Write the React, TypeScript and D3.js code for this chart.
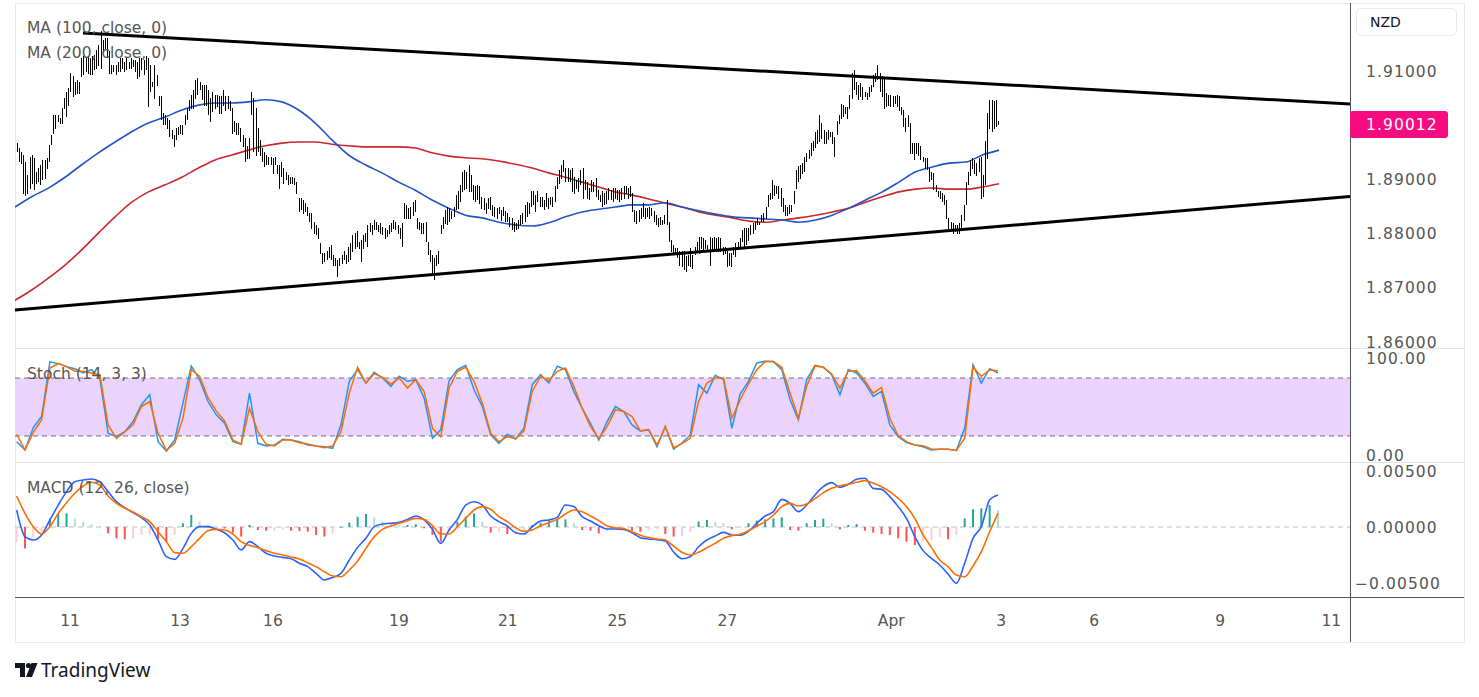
import React from "react";
import * as d3 from "d3";

// time axis is in "session days" counted from the start of 10 Mar (weekends removed)
const dayLabels = ["11", "13", "16", "19", "21", "25", "27", "Apr", "3", "6", "9", "11"];
const dayTicks = [1.0, 3.0, 4.69, 6.98, 8.96, 10.95, 12.95, 15.93, 17.93, 19.62, 21.91, 23.93];
const firstDay = 0.03;
const lastDay = 17.87;
const maFirstDay = 0;
const maLastDay = 17.89;

const priceTicks = [1.86, 1.87, 1.88, 1.89, 1.9, 1.91];
const stochTicks = [0, 100];
const stochBands = [20, 80];
const macdTicks = [-0.005, 0, 0.005];
const lastClose = 1.90012;

// hourly bar highs / lows
const barHigh = [
  1.8967, 1.8958, 1.8951, 1.8945, 1.8933, 1.8908, 1.8942, 1.8945, 1.8939, 1.8914,
  1.8921, 1.8927, 1.8936, 1.8936, 1.8939, 1.8964, 1.8982, 1.9019, 1.9019, 1.9019,
  1.9013, 1.9031, 1.905, 1.9062, 1.9068, 1.9096, 1.909, 1.908, 1.9084, 1.908,
  1.9124, 1.9127, 1.9124, 1.9127, 1.9124, 1.9127, 1.913, 1.9139, 1.9148, 1.9173,
  1.9157, 1.916, 1.916, 1.9136, 1.9111, 1.9111, 1.9111, 1.9117, 1.9124, 1.9124,
  1.9117, 1.9124, 1.9117, 1.9124, 1.912, 1.912, 1.9117, 1.9124, 1.9124, 1.912,
  1.9127, 1.9124, 1.9111, 1.908, 1.9111, 1.9093, 1.9053, 1.9053, 1.9022, 1.9019,
  1.9013, 1.901, 1.8991, 1.8982, 1.8994, 1.8997, 1.9001, 1.9001, 1.9019, 1.9031,
  1.9047, 1.9056, 1.9065, 1.9084, 1.9087, 1.908, 1.9074, 1.9074, 1.9074, 1.9065,
  1.905, 1.9062, 1.9056, 1.9056, 1.9053, 1.9053, 1.9065, 1.9053, 1.9053, 1.9044,
  1.9031, 1.9007, 1.9004, 1.9004, 1.8994, 1.8982, 1.8976, 1.8961, 1.8976, 1.9062,
  1.905, 1.9031, 1.8994, 1.8973, 1.8958, 1.8951, 1.8945, 1.8942, 1.8942, 1.8939,
  1.8942, 1.8927, 1.8927, 1.8933, 1.8921, 1.8914, 1.8908, 1.8905, 1.8905, 1.8902,
  1.8896, 1.8865, 1.8865, 1.8862, 1.8856, 1.885, 1.8838, 1.8838, 1.8822, 1.8816,
  1.881, 1.8782, 1.8764, 1.8764, 1.8767, 1.8776, 1.8779, 1.8761, 1.8755, 1.8752,
  1.8755, 1.8761, 1.8767,
  1.8761, 1.8776, 1.8782, 1.8798, 1.8801, 1.8804, 1.8785, 1.8788, 1.8798, 1.8801,
  1.8816, 1.8819, 1.8816, 1.8825, 1.8822, 1.8816, 1.8819, 1.8813, 1.881, 1.8807,
  1.8816, 1.8819, 1.8825, 1.8822, 1.8816, 1.881, 1.8819, 1.8856, 1.8853, 1.8847,
  1.885, 1.8859, 1.8862, 1.8828, 1.8822, 1.8819, 1.8819, 1.8822, 1.8785, 1.877,
  1.8761, 1.8755, 1.8761, 1.8767, 1.8816, 1.8831, 1.8844, 1.885, 1.8847, 1.8841,
  1.885, 1.8871, 1.8878, 1.889, 1.8914, 1.8918, 1.8914, 1.8927, 1.8908, 1.889,
  1.8887, 1.889, 1.8887, 1.8868, 1.8865, 1.8856, 1.8865, 1.8868, 1.8853, 1.885,
  1.8847, 1.885, 1.8844, 1.885, 1.8841, 1.8838, 1.8831, 1.8828, 1.8822, 1.8819,
  1.8825, 1.8834, 1.8838, 1.8853, 1.8859, 1.8856, 1.8878, 1.8878, 1.8871, 1.8878,
  1.8868, 1.8868, 1.8862, 1.8874, 1.8865, 1.8868, 1.8868, 1.8887, 1.8905, 1.8918,
  1.8927, 1.8936, 1.8921, 1.8921, 1.8918, 1.8921, 1.8905, 1.8899, 1.8902, 1.8918,
  1.8921, 1.8899, 1.8896, 1.8884, 1.8899, 1.8896, 1.8902, 1.8881, 1.8871, 1.8878,
  1.8874, 1.8878, 1.8884, 1.8881, 1.8884, 1.8884, 1.8881, 1.8881, 1.8884, 1.8887,
  1.8887, 1.8884, 1.8887, 1.8874, 1.8844, 1.8841, 1.8844, 1.8847, 1.8856, 1.8847,
  1.8847, 1.885, 1.8847, 1.8841, 1.8834, 1.8828, 1.8831, 1.8825, 1.8834, 1.8862,
  1.8822, 1.8788, 1.8779, 1.8773,
  1.8773, 1.8767, 1.8767, 1.8767, 1.8758, 1.8761, 1.8773, 1.8761, 1.8776, 1.8785,
  1.8794, 1.8794, 1.8791, 1.8788, 1.8779, 1.8794, 1.8791, 1.8794, 1.8791, 1.8794,
  1.8791, 1.8776, 1.8776, 1.8767, 1.8764, 1.8764, 1.8776, 1.8782, 1.8785, 1.8791,
  1.8807, 1.881, 1.881, 1.881, 1.8816, 1.8819, 1.8822, 1.8828, 1.8822, 1.8834,
  1.8838, 1.885, 1.8871, 1.8874, 1.8899, 1.889, 1.8887, 1.8887, 1.8884, 1.8865,
  1.8853, 1.885, 1.8853, 1.8853, 1.8878, 1.8918, 1.8924, 1.8927, 1.893, 1.8942,
  1.8948, 1.8954, 1.8967, 1.897, 1.8988, 1.8991, 1.9019, 1.9004, 1.8991, 1.8988,
  1.8991, 1.8988, 1.8988, 1.8979, 1.9007, 1.9019, 1.904, 1.9037, 1.9034, 1.9034,
  1.9056, 1.9096, 1.9102, 1.908, 1.9074, 1.9077, 1.9071, 1.9062, 1.9059, 1.9071,
  1.9074, 1.9093, 1.9096, 1.9111, 1.9096, 1.909, 1.9087, 1.9059, 1.9056, 1.9056,
  1.9053, 1.9053, 1.9056, 1.9053, 1.9034, 1.9028, 1.9013, 1.9019, 1.9004, 1.8967,
  1.8967, 1.8967, 1.8967, 1.8961, 1.8942, 1.8939, 1.8939, 1.8921, 1.8914, 1.8911,
  1.889, 1.8878, 1.8878, 1.8874, 1.8871, 1.8862, 1.8828, 1.8822, 1.8819, 1.8816,
  1.8816, 1.8819, 1.8834, 1.8853, 1.8896, 1.8914, 1.8936, 1.8939, 1.8936, 1.893,
  1.8939, 1.8942, 1.8908, 1.897, 1.9022, 1.9047, 1.9047, 1.9044, 1.9047, 1.9007,
];

const barLow = [
  1.8951, 1.8933, 1.893, 1.8874, 1.8871, 1.8874, 1.8884, 1.8893, 1.8881, 1.8893,
  1.8896, 1.889, 1.8899, 1.8902, 1.8921, 1.8933, 1.8964, 1.8985, 1.8994, 1.9007,
  1.9004, 1.9004, 1.9031, 1.9016, 1.9037, 1.9062, 1.9053, 1.9056, 1.9059, 1.9059,
  1.909, 1.9093, 1.9099, 1.9096, 1.9093, 1.9093, 1.9102, 1.9105, 1.9111, 1.9105,
  1.9136, 1.9142, 1.9124, 1.9096, 1.9096, 1.9099, 1.9093, 1.9099, 1.9099, 1.9105,
  1.9099, 1.9102, 1.9105, 1.9105, 1.9108, 1.9099, 1.9087, 1.909, 1.9102, 1.9093,
  1.9102, 1.9034, 1.9062, 1.9071, 1.905, 1.9074, 1.9037, 1.901, 1.9001, 1.9001,
  1.8994, 1.8979, 1.8976, 1.8961, 1.8973, 1.8982, 1.8985, 1.8982, 1.9001, 1.901,
  1.9028, 1.9031, 1.9031, 1.905, 1.9056, 1.9065, 1.9047, 1.9037, 1.9037, 1.9019,
  1.9007, 1.9025, 1.9031, 1.9034, 1.9022, 1.9022, 1.9037, 1.9028, 1.9031, 1.9028,
  1.8985, 1.8988, 1.8982, 1.8982, 1.897, 1.8961, 1.8933, 1.8939, 1.8939, 1.9019,
  1.8951, 1.8945, 1.8951, 1.8945, 1.8933, 1.8924, 1.8927, 1.8927, 1.8927, 1.8911,
  1.8927, 1.8911, 1.8884, 1.8905, 1.8893, 1.8899, 1.889, 1.8893, 1.8893, 1.889,
  1.8874, 1.8841, 1.8844, 1.8838, 1.8841, 1.8834, 1.8822, 1.881, 1.8801, 1.8798,
  1.8791, 1.8764, 1.8745, 1.8748, 1.8752, 1.8755, 1.8752, 1.8742, 1.8742, 1.8721,
  1.8742, 1.8745, 1.8752,
  1.8745, 1.8748, 1.8752, 1.8767, 1.8773, 1.8776, 1.8773, 1.8748, 1.8773, 1.8785,
  1.8776, 1.8804, 1.8798, 1.8807, 1.8807, 1.8804, 1.8801, 1.8798, 1.8791, 1.8794,
  1.8801, 1.8804, 1.881, 1.8807, 1.8801, 1.8791, 1.8776, 1.8828, 1.8828, 1.8828,
  1.8828, 1.8834, 1.8841, 1.881, 1.8807, 1.8801, 1.8801, 1.8785, 1.8761, 1.8748,
  1.8724, 1.8715, 1.8742, 1.8745, 1.8801, 1.881, 1.8819, 1.8816, 1.8822, 1.8828,
  1.8831, 1.8844, 1.8847, 1.8859, 1.8878, 1.8881, 1.8884, 1.8878, 1.8878, 1.8862,
  1.8859, 1.8862, 1.8856, 1.8847, 1.8844, 1.8838, 1.8847, 1.8844, 1.8834, 1.8831,
  1.8828, 1.8838, 1.8825, 1.8834, 1.8822, 1.8822, 1.8813, 1.8807, 1.8804, 1.8807,
  1.881, 1.8816, 1.8819, 1.8822, 1.8831, 1.8838, 1.885, 1.8853, 1.8841, 1.8859,
  1.885, 1.885, 1.8844, 1.885, 1.8847, 1.8853, 1.885, 1.8859, 1.8884, 1.8893,
  1.8902, 1.8914, 1.8896, 1.8896, 1.8896, 1.8878, 1.8874, 1.8884, 1.8878, 1.889,
  1.8865, 1.8881, 1.8865, 1.8862, 1.8878, 1.8878, 1.8868, 1.8862, 1.8859, 1.885,
  1.8853, 1.8856, 1.8862, 1.8862, 1.8859, 1.8865, 1.8862, 1.8859, 1.8862, 1.8865,
  1.8874, 1.8865, 1.8868, 1.8841, 1.8822, 1.8819, 1.8822, 1.8828, 1.8831, 1.8828,
  1.8831, 1.8828, 1.8834, 1.8822, 1.8816, 1.8813, 1.8816, 1.8816, 1.8819, 1.8816,
  1.8785, 1.8767, 1.8761, 1.8761,
  1.8755, 1.8742, 1.8739, 1.8733, 1.873, 1.8742, 1.8739, 1.8736, 1.8761, 1.8767,
  1.8764, 1.8773, 1.8767, 1.8773, 1.8767, 1.8742, 1.8767, 1.8773, 1.8767, 1.8767,
  1.8767, 1.8761, 1.8764, 1.8739, 1.8742, 1.8739, 1.8761, 1.8758, 1.8773, 1.8776,
  1.8785, 1.8776, 1.8779, 1.8788, 1.8798, 1.8801, 1.8807, 1.8816, 1.8816, 1.8822,
  1.8822, 1.8828, 1.885, 1.8862, 1.8865, 1.8871, 1.8874, 1.8865, 1.885, 1.8841,
  1.8834, 1.8834, 1.8838, 1.8841, 1.8856, 1.8884, 1.8896, 1.8902, 1.8911, 1.8914,
  1.8933, 1.8939, 1.8945, 1.8954, 1.8958, 1.8967, 1.897, 1.8976, 1.8967, 1.8967,
  1.8973, 1.8979, 1.8967, 1.8942, 1.8982, 1.9004, 1.9013, 1.9016, 1.9022, 1.9013,
  1.9031, 1.905, 1.9065, 1.9056, 1.9047, 1.9053, 1.9047, 1.9053, 1.9047, 1.9053,
  1.9062, 1.9071, 1.908, 1.9084, 1.9062, 1.9053, 1.9031, 1.9034, 1.9037, 1.9034,
  1.9034, 1.904, 1.9034, 1.9028, 1.9019, 1.8997, 1.8988, 1.8997, 1.8948, 1.8948,
  1.8936, 1.8948, 1.8945, 1.8936, 1.8933, 1.8921, 1.8918, 1.8896, 1.8899, 1.8881,
  1.8878, 1.8868, 1.8865, 1.8859, 1.8853, 1.8828, 1.881, 1.8807, 1.8801, 1.8804,
  1.8801, 1.8801, 1.881, 1.8825, 1.8853, 1.889, 1.8908, 1.8921, 1.8911, 1.8908,
  1.8914, 1.8865, 1.8868, 1.889, 1.8939, 1.8994, 1.8988, 1.8994, 1.8997, 1.9001,
];

const ma100 = [
  1.8849, 1.8868, 1.8884, 1.8904, 1.8927, 1.8949, 1.8969, 1.8988, 1.9004, 1.9015,
  1.9028, 1.9037, 1.9041, 1.9041, 1.9043, 1.9047, 1.9043, 1.9028, 1.9004, 1.8973,
  1.8945, 1.8927, 1.8912, 1.8895, 1.888, 1.8862, 1.8847, 1.8834, 1.8829, 1.8821,
  1.8816, 1.8814, 1.882, 1.8831, 1.884, 1.8845, 1.8849, 1.8853, 1.8853, 1.8857,
  1.8849, 1.8842, 1.8836, 1.8831, 1.8829, 1.8827, 1.8825, 1.8821, 1.8825, 1.8834,
  1.8847, 1.8862, 1.8877, 1.8895, 1.8914, 1.8923, 1.893, 1.8932, 1.8945, 1.8954,
];

const ma200 = [
  1.8677, 1.8696, 1.8718, 1.8742, 1.877, 1.8801, 1.8831, 1.8858, 1.8877, 1.889,
  1.8904, 1.8921, 1.8936, 1.8945, 1.8954, 1.8962, 1.8967, 1.8969, 1.8969, 1.8965,
  1.8962, 1.896, 1.896, 1.896, 1.8958, 1.8949, 1.8943, 1.894, 1.8938, 1.8934,
  1.8928, 1.8921, 1.8912, 1.8904, 1.8895, 1.8886, 1.8877, 1.8871, 1.8864, 1.8856,
  1.8849, 1.884, 1.8834, 1.8829, 1.8823, 1.8821, 1.8825, 1.8829, 1.8834, 1.884,
  1.8847, 1.8858, 1.8868, 1.8877, 1.8882, 1.8884, 1.8882, 1.8882, 1.8886, 1.8892,
];

// drawn trend lines: [session day, price]
const upperTrend = [[1.236, 1.917], [24.27, 1.9039]];
const lowerTrend = [[0, 1.8659], [24.27, 1.88685]];

const stochK = [
  14.1, 5.5, 28.7, 40.1, 96.7, 94.9, 91.8, 89.7, 85.2, 88.7,
  80.0, 22.8, 19.3, 24.5, 34.9, 52.3, 62.7, 14.1, 4.4, 15.9,
  54.0, 92.5, 78.3, 55.7, 41.9, 33.2, 14.1, 11.4, 64.4, 12.4,
  9.6, 10.7, 16.5, 15.9, 14.1, 10.7, 9.6, 8.9, 7.2, 31.5,
  76.6, 88.7, 74.8, 85.9, 80.0, 71.4, 81.8, 76.6, 78.3, 59.2,
  17.6, 26.3, 77.2, 88.7, 93.2, 67.9, 50.5, 21.1, 12.4, 21.8,
  16.9, 28.0, 73.1, 83.5, 74.8, 92.2, 88.7, 66.1, 48.8, 33.2,
  15.9, 34.9, 50.5, 45.3, 31.5, 25.2, 26.3, 8.9, 29.7, 6.5,
  12.7, 21.1, 73.1, 64.4, 82.8, 78.3, 28.0, 63.4, 76.6, 95.6,
  97.4, 97.0, 88.7, 57.5, 36.7, 78.3, 93.2, 91.1, 83.5, 62.7,
  88.7, 85.2, 74.8, 60.9, 66.1, 31.5, 19.3, 13.1, 10.7, 8.9,
  5.5, 6.2, 6.2, 5.1, 28.0, 93.9, 74.8, 89.7, 85.2,
];

const stochD = [
  21.8, 5.5, 23.8, 36.7, 90.4, 94.9, 91.8, 87.0, 87.0, 85.2,
  83.5, 31.5, 17.6, 24.2, 31.5, 50.5, 55.7, 22.8, 5.1, 12.4,
  38.4, 88.7, 81.8, 59.9, 46.0, 35.6, 15.9, 11.4, 48.8, 24.5,
  11.4, 9.6, 15.9, 15.9, 13.1, 11.7, 9.6, 7.9, 9.6, 24.5,
  64.4, 91.1, 74.8, 84.5, 80.7, 73.8, 80.0, 69.6, 78.3, 66.1,
  28.0, 19.3, 69.6, 87.0, 91.1, 76.6, 54.0, 22.8, 14.1, 19.3,
  17.2, 25.2, 66.1, 81.8, 77.2, 87.0, 90.4, 71.4, 48.8, 29.7,
  17.6, 29.7, 47.1, 45.3, 40.1, 25.2, 26.6, 10.7, 29.7, 7.9,
  12.0, 17.6, 55.7, 74.8, 80.0, 80.0, 38.4, 57.5, 73.8, 88.7,
  97.0, 97.0, 91.1, 64.4, 38.4, 71.4, 92.5, 91.1, 84.2, 69.6,
  87.0, 87.6, 77.2, 64.4, 70.3, 38.4, 20.4, 14.1, 10.7, 10.0,
  6.5, 6.2, 6.2, 5.1, 17.6, 91.1, 81.8, 88.3, 87.6,
];

const macdLine = [
  0.00152, -0.00086, -0.00116, -0.00071, 0.00063, 0.00196, 0.00316, 0.00405, 0.0042, 0.00429,
  0.00405, 0.00316, 0.00226, 0.00173, 0.00128, 0.00083, 0.00018, -0.00116, -0.00265, -0.00289,
  -0.00191, -0.00057, 0.00003, 0.00003, -0.00018, -0.00051, -0.00116, -0.00205, -0.00131, -0.00176,
  -0.00235, -0.00259, -0.00271, -0.00283, -0.00324, -0.00354, -0.00414, -0.00473, -0.0045, -0.00414,
  -0.00295, -0.00182, -0.00101, 0.00003, 0.00027, 0.00033, 0.00042, 0.00068, 0.00098, 0.00063,
  -0.00021, -0.00146, -0.00027, 0.00068, 0.00196, 0.00226, 0.00196, 0.00098, 0.00048, 0.00009,
  -0.00051, -0.00063, 0.00003, 0.00054, 0.00063, 0.00086, 0.00196, 0.00182, 0.00092, 0.00054,
  0.00012, -0.00018, -0.00018, -0.00021, -0.00051, -0.00095, -0.00107, -0.00113, -0.00125, -0.00223,
  -0.00283, -0.00265, -0.00176, -0.00116, -0.0008, -0.00048, -0.00071, -0.00074, -0.00039, 0.00033,
  0.00098, 0.00137, 0.00247, 0.00211, 0.00137, 0.00196, 0.00286, 0.0036, 0.00396, 0.00354,
  0.00381, 0.00426, 0.00435, 0.00345, 0.00336, 0.00271, 0.00182, 0.00077, -0.00086, -0.00211,
  -0.0028, -0.00339, -0.0042, -0.00503, -0.00324, -0.00101, 0.00003, 0.00241, 0.00286,
];

const macdSignal = [
  0.00277, 0.00122, 0.00003, -0.00063, 0.00003, 0.00122, 0.00217, 0.00301, 0.00366, 0.00399,
  0.00375, 0.00277, 0.00211, 0.00167, 0.00134, 0.00092, 0.00048, -0.00042, -0.00131, -0.00229,
  -0.00235, -0.00176, -0.00101, -0.00033, -0.00021, -0.00027, -0.00063, -0.00131, -0.00164, -0.00185,
  -0.00211, -0.00235, -0.0025, -0.00268, -0.00286, -0.00319, -0.00354, -0.00399, -0.00438, -0.00444,
  -0.00384, -0.00304, -0.00191, -0.00086, -0.00021, 0.00009, 0.00033, 0.00057, 0.00077, 0.00068,
  0.00012, -0.00063, -0.00063, 0.00003, 0.00077, 0.00152, 0.00182, 0.00158, 0.00092, 0.00048,
  -0.00006, -0.00039, -0.00027, 0.00012, 0.00039, 0.00068, 0.00116, 0.00152, 0.00137, 0.00098,
  0.00057, 0.00012, -0.00006, -0.00015, -0.00042, -0.00074, -0.00095, -0.00107, -0.00116, -0.0017,
  -0.00226, -0.0025, -0.00226, -0.00185, -0.00146, -0.00101, -0.00077, -0.00065, -0.00033, 0.00009,
  0.00048, 0.00107, 0.00182, 0.00211, 0.00188, 0.00205, 0.00253, 0.00307, 0.00345, 0.00369,
  0.00381, 0.00399, 0.00414, 0.0039, 0.0036, 0.00316, 0.00256, 0.00182, 0.00077, -0.00071,
  -0.00182, -0.00295, -0.00354, -0.00429, -0.00444, -0.00348, -0.0022, -0.00042, 0.00122,
];

const macdHist = [
  -0.00131, -0.00191, -0.00092, -0.00042, 0.00077, 0.00122, 0.00122, 0.00077, 0.00048, 0.00024,
  0.00003, -0.00057, -0.00101, -0.0011, -0.00101, -0.00071, -0.00071, -0.00116, -0.00131, -0.00071,
  0.00033, 0.00107, 0.00048, 0.00018, 0.00003, -0.00012, -0.00051, -0.00086, 0.00018, -0.00027,
  -0.00033, -0.00033, -0.00027, -0.00033, -0.00036, -0.00042, -0.00071, -0.00086, -0.00057, 0.00003,
  0.00039, 0.00092, 0.00116, 0.00086, 0.00048, 0.00033, 0.00018, 0.00018, 0.00024, -0.00012,
  -0.00071, -0.00131, -0.00042, 0.00048, 0.00092, 0.00122, 0.00048, -0.00051, -0.00042, -0.00063,
  -0.00057, -0.00033, 0.00018, 0.00039, 0.00057, 0.00068, 0.00068, 0.00033, -0.00027, -0.00033,
  -0.00057, -0.00033, -0.00018, -0.00012, -0.00033, -0.00042, -0.00027, -0.00021, -0.00063, -0.00086,
  -0.0008, -0.00042, 0.00048, 0.00063, 0.00048, 0.00033, -0.00021, -0.00012, 0.00033, 0.00057,
  0.00068, 0.00077, 0.00086, -0.00027, -0.00033, 0.00033, 0.00063, 0.00074, 0.00033, -0.00021,
  0.00018, 0.00027, -0.00033, -0.00051, -0.00063, -0.00071, -0.00101, -0.00131, -0.00161, -0.00131,
  -0.00116, -0.00092, -0.0011, -0.00071, 0.00077, 0.00158, 0.00167, 0.00196, 0.00152,
];

const W = 1479;
const H = 697;
const left = 15;
const right = 1350;
const frameRight = 1464;
const top = 3;
const frameBottom = 642;
const mainBottom = 348;
const stochBottom = 462;
const macdBottom = 597;
const FONT = "'DejaVu Sans', Verdana, sans-serif";
const TEXT = "#555";

const x = d3.scaleLinear().domain([0, 24.27]).range([left, right]);
const yP = d3.scaleLinear().domain([1.86, 1.91]).range([342, 71]);
const yS = d3.scaleLinear().domain([0, 100]).range([455.3, 358.7]);
const yM = d3.scaleLinear().domain([-0.005, 0.005]).range([583, 471]);

const dayAt = (i: number, n: number, a = firstDay, b = lastDay) =>
  a + (i * (b - a)) / (n - 1);

const fmtPrice = d3.format(".5f");
const fmtStoch = d3.format(".2f");

function histColor(v: number, prev: number) {
  if (v >= 0) return v >= prev ? "#26a69a" : "#b2dfdb";
  return v < prev ? "#ff5252" : "#ffcdd2";
}

export default function App() {
  const barPath = barHigh
    .map((h, i) => {
      const xx = Math.round(x(dayAt(i, barHigh.length))) + 0.5;
      return `M${xx},${yP(h)}V${yP(barLow[i]) + 0.5}`;
    })
    .join("");

  const maPath = (vals: number[]) =>
    d3
      .line<number>()
      .x((_, i) => x(dayAt(i, vals.length, maFirstDay, maLastDay)))
      .y((v) => yP(v))
      .curve(d3.curveMonotoneX)(vals) || "";

  const stochPath = (vals: number[]) =>
    d3
      .line<number>()
      .x((_, i) => x(dayAt(i, vals.length)))
      .y((v) => yS(v))(vals) || "";

  const macdPath = (vals: number[]) =>
    d3
      .line<number>()
      .x((_, i) => x(dayAt(i, vals.length)))
      .y((v) => yM(v))
      .curve(d3.curveMonotoneX)(vals) || "";

  const trend = (pts: number[][]) =>
    d3
      .line<number[]>()
      .x((d) => x(d[0]))
      .y((d) => yP(d[1]))(pts) || "";

  const tagY = yP(lastClose);

  return (
    <svg
      width={W}
      height={H}
      style={{ position: "absolute", left: 0, top: 0, background: "#fff" }}
      fontFamily={FONT}
    >
      <defs>
        <clipPath id="clipMain">
          <rect x={left} y={top} width={right - left} height={mainBottom - top} />
        </clipPath>
        <clipPath id="clipStoch">
          <rect x={left} y={mainBottom} width={right - left} height={stochBottom - mainBottom} />
        </clipPath>
        <clipPath id="clipMacd">
          <rect x={left} y={stochBottom} width={right - left} height={macdBottom - stochBottom} />
        </clipPath>
      </defs>

      <rect x={0} y={0} width={W} height={H} fill="#fff" />

      {/* frame */}
      <rect
        x={left + 0.5}
        y={top + 0.5}
        width={frameRight - left}
        height={frameBottom - top}
        fill="none"
        stroke="#e6e8ee"
      />
      <line x1={left} x2={frameRight} y1={mainBottom + 0.5} y2={mainBottom + 0.5} stroke="#e0e3eb" />
      <line x1={left} x2={frameRight} y1={stochBottom + 0.5} y2={stochBottom + 0.5} stroke="#e0e3eb" />

      {/* main pane */}
      <g clipPath="url(#clipMain)">
        <path d={maPath(ma200)} fill="none" stroke="#c8282e" strokeWidth={1.6} />
        <path d={maPath(ma100)} fill="none" stroke="#2354c4" strokeWidth={1.6} />
        <path d={barPath} fill="none" stroke="#000" strokeWidth={1} shapeRendering="crispEdges" />
        <path d={trend(upperTrend)} fill="none" stroke="#000" strokeWidth={3} />
        <path d={trend(lowerTrend)} fill="none" stroke="#000" strokeWidth={3} />
      </g>
      <text x={27} y={33} fontSize={15.5} fill={TEXT}>MA (100, close, 0)</text>
      <text x={27} y={58} fontSize={15.5} fill={TEXT}>MA (200, close, 0)</text>

      {/* stochastic pane */}
      <g clipPath="url(#clipStoch)">
        <rect
          x={left}
          y={yS(stochBands[1])}
          width={right - left}
          height={yS(stochBands[0]) - yS(stochBands[1])}
          fill="#ead3fc"
        />
        {stochBands.map((b) => (
          <line
            key={b}
            x1={left}
            x2={right}
            y1={yS(b)}
            y2={yS(b)}
            stroke="#6f7280"
            strokeDasharray="5 4"
          />
        ))}
        <path d={stochPath(stochK)} fill="none" stroke="#2196f3" strokeWidth={1.5} />
        <path d={stochPath(stochD)} fill="none" stroke="#ff6d00" strokeWidth={1.5} />
      </g>
      <text x={27} y={378.5} fontSize={15.5} fill={TEXT}>Stoch (14, 3, 3)</text>

      {/* MACD pane */}
      <g clipPath="url(#clipMacd)">
        <line
          x1={left}
          x2={right}
          y1={yM(0)}
          y2={yM(0)}
          stroke="#b8bcc6"
          strokeDasharray="5 4"
        />
        {macdHist.map((v, i) => {
          const xx = x(dayAt(i, macdHist.length));
          const y0 = yM(0);
          const y1 = yM(v);
          return (
            <rect
              key={i}
              x={xx - 1}
              y={Math.min(y0, y1)}
              width={2}
              height={Math.max(1, Math.abs(y1 - y0))}
              fill={histColor(v, i > 0 ? macdHist[i - 1] : v)}
            />
          );
        })}
        <path d={macdPath(macdLine)} fill="none" stroke="#2962ff" strokeWidth={1.6} />
        <path d={macdPath(macdSignal)} fill="none" stroke="#ff6d00" strokeWidth={1.6} />
      </g>
      <text x={27} y={492.5} fontSize={15.5} fill={TEXT}>MACD (12, 26, close)</text>

      {/* axes lines */}
      <line x1={right + 0.5} x2={right + 0.5} y1={top} y2={frameBottom} stroke="#50535e" />
      <line x1={left} x2={frameRight} y1={macdBottom + 0.5} y2={macdBottom + 0.5} stroke="#50535e" />

      {/* price scale labels */}
      {priceTicks.map((v) => (
        <text key={v} x={1366} y={yP(v)} dy="0.36em" fontSize={15.5} letterSpacing={1.1} fill={TEXT}>
          {fmtPrice(v)}
        </text>
      ))}
      {stochTicks.map((v) => (
        <text key={v} x={1366} y={yS(v)} dy="0.36em" fontSize={15.5} letterSpacing={1.1} fill={TEXT}>
          {fmtStoch(v)}
        </text>
      ))}
      {macdTicks.map((v) => (
        <text
          key={v}
          x={v < 0 ? 1355 : 1366}
          y={yM(v)}
          dy="0.36em"
          fontSize={15.5}
          letterSpacing={1.1}
          fill={TEXT}
        >
          {fmtPrice(v)}
        </text>
      ))}

      {/* last price tag */}
      <rect x={right} y={tagY - 13.5} width={98} height={27} rx={3} fill="#f60b80" />
      <text x={1366} y={tagY} dy="0.36em" fontSize={15.5} letterSpacing={1.1} fill="#fff">
        {fmtPrice(lastClose)}
      </text>

      {/* currency box */}
      <rect x={1356.5} y={8.5} width={100} height={27} rx={5} fill="#fff" stroke="#e6e8ee" />
      <text x={1370} y={22} dy="0.36em" fontSize={14} fill="#131722">NZD</text>

      {/* time axis */}
      {dayTicks.map((d, i) => (
        <text
          key={i}
          x={x(d)}
          y={620}
          dy="0.36em"
          textAnchor="middle"
          fontSize={15.5}
          fill={TEXT}
        >
          {dayLabels[i]}
        </text>
      ))}

      {/* TradingView logo */}
      <g fill="#131722">
        <path d="M15,663 H25 V677 H20 V668 H15 Z" />
        <circle cx={28.5} cy={665.5} r={2.6} />
        <path d="M31.5,663 H37.5 L32,677 H26 Z" />
      </g>
      <text x={41} y={677} fontSize={19} fontFamily="'Noto Sans', sans-serif" fill="#131722">
        TradingView
      </text>
    </svg>
  );
}
